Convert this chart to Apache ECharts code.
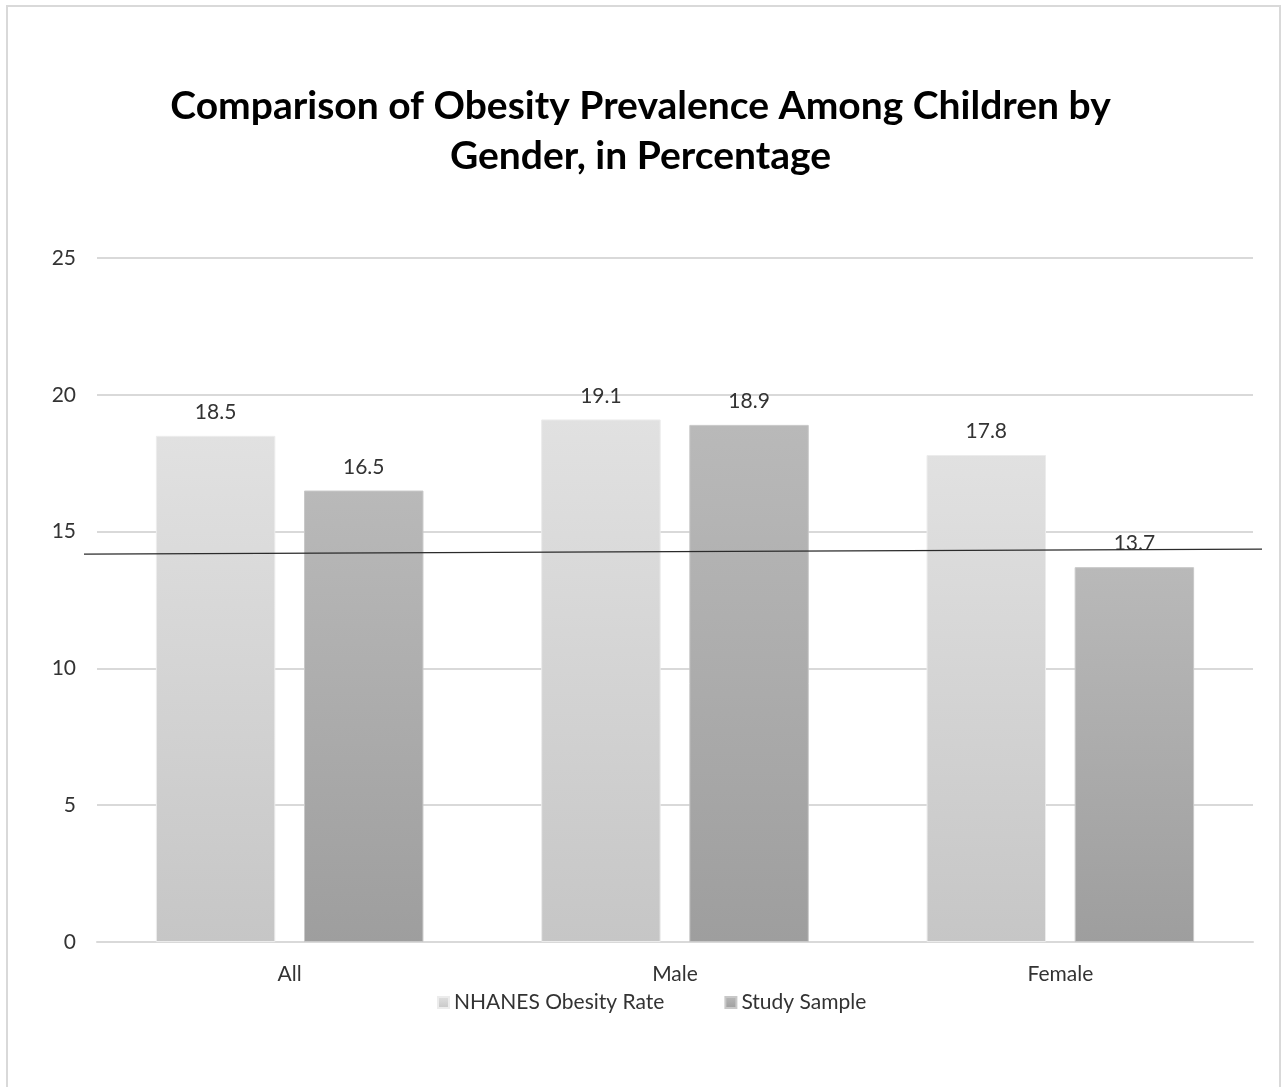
<!DOCTYPE html>
<html>
<head>
<meta charset="utf-8">
<script src="https://cdn.jsdelivr.net/npm/echarts@6/dist/echarts.min.js"></script>
<style>
  html, body { margin: 0; padding: 0; background: #fff; }
  #chart { width: 1281px; height: 1087px; }
</style>
</head>
<body>
<div id="chart"></div>
<script>
// Obesity prevalence among children, by gender (%)
const categories = ['All', 'Male', 'Female'];
const nhanesRate = [18.5, 19.1, 17.8];
const studySample = [16.5, 18.9, 13.7];
const seriesNames = ['NHANES Obesity Rate', 'Study Sample'];
const yTicks = [0, 5, 10, 15, 20, 25];
// Hand-drawn reference line across the plot: value at its left and right ends
const refLineValues = [14.18, 14.36];

const FONT = 'Lato, "Open Sans", sans-serif';
const TEXT = '#333333';

function vGrad(top, bottom) {
  return new echarts.graphic.LinearGradient(0, 0, 0, 1, [
    { offset: 0, color: top },
    { offset: 1, color: bottom }
  ]);
}

const chart = echarts.init(document.getElementById('chart'), null, { renderer: 'canvas' });

const option = {
  backgroundColor: '#ffffff',
  animation: false,
  title: {
    text: 'Comparison of Obesity Prevalence Among Children by\nGender, in Percentage',
    left: 'center',
    top: 76,
    textStyle: {
      fontFamily: FONT,
      fontSize: 39,
      fontWeight: 'bold',
      color: '#000000',
      lineHeight: 50
    }
  },
  legend: {
    bottom: 69,
    left: 432,
    itemWidth: 11,
    itemHeight: 11,
    itemGap: 60,
    icon: 'rect',
    textStyle: { fontFamily: FONT, fontSize: 21, color: TEXT }
  },
  grid: { left: 97, right: 28, top: 258, bottom: 145 },
  xAxis: {
    type: 'category',
    data: categories,
    axisTick: { show: false },
    axisLine: { lineStyle: { color: '#d9d9d9', width: 2 } },
    axisLabel: { fontFamily: FONT, fontSize: 21, color: TEXT, margin: 22 }
  },
  yAxis: {
    type: 'value',
    min: yTicks[0],
    max: yTicks[yTicks.length - 1],
    interval: yTicks[1] - yTicks[0],
    axisLine: { show: false },
    axisTick: { show: false },
    axisLabel: { fontFamily: FONT, fontSize: 21, color: TEXT, margin: 21 },
    splitLine: { lineStyle: { color: '#d9d9d9', width: 2 } }
  },
  series: [
    {
      name: seriesNames[0],
      type: 'bar',
      data: nhanesRate,
      barWidth: '31%',
      barGap: '24%',
      itemStyle: { color: vGrad('#e1e1e1', '#c6c6c6'), borderColor: '#ececec', borderWidth: 1 },
      label: { show: true, position: 'top', distance: 13, fontFamily: FONT, fontSize: 21, color: TEXT }
    },
    {
      name: seriesNames[1],
      type: 'bar',
      data: studySample,
      barWidth: '31%',
      itemStyle: { color: vGrad('#b9b9b9', '#9e9e9e'), borderColor: '#c8c8c8', borderWidth: 1 },
      label: { show: true, position: 'top', distance: 13, fontFamily: FONT, fontSize: 21, color: TEXT }
    }
  ]
};

chart.setOption(option);

// Outer frame and the slanted reference line, placed through the axis scale
const pLeft = chart.convertToPixel({ gridIndex: 0 }, [0, refLineValues[0]]);
const pRight = chart.convertToPixel({ gridIndex: 0 }, [categories.length - 1, refLineValues[1]]);
const gridModel = chart.getModel().getComponent('grid', 0);
const rect = gridModel.coordinateSystem.getRect();

chart.setOption({
  graphic: [
    {
      type: 'rect',
      shape: { x: 7, y: 6, width: 1273, height: 1090 },
      style: { fill: 'none', stroke: '#d9d9d9', lineWidth: 2 },
      silent: true,
      z: 0
    },
    {
      type: 'line',
      shape: {
        x1: rect.x - 13, y1: pLeft[1],
        x2: rect.x + rect.width + 9, y2: pRight[1]
      },
      style: { stroke: '#2b2b2b', lineWidth: 1.3 },
      silent: true,
      z: 100
    }
  ]
});
</script>
</body>
</html>
